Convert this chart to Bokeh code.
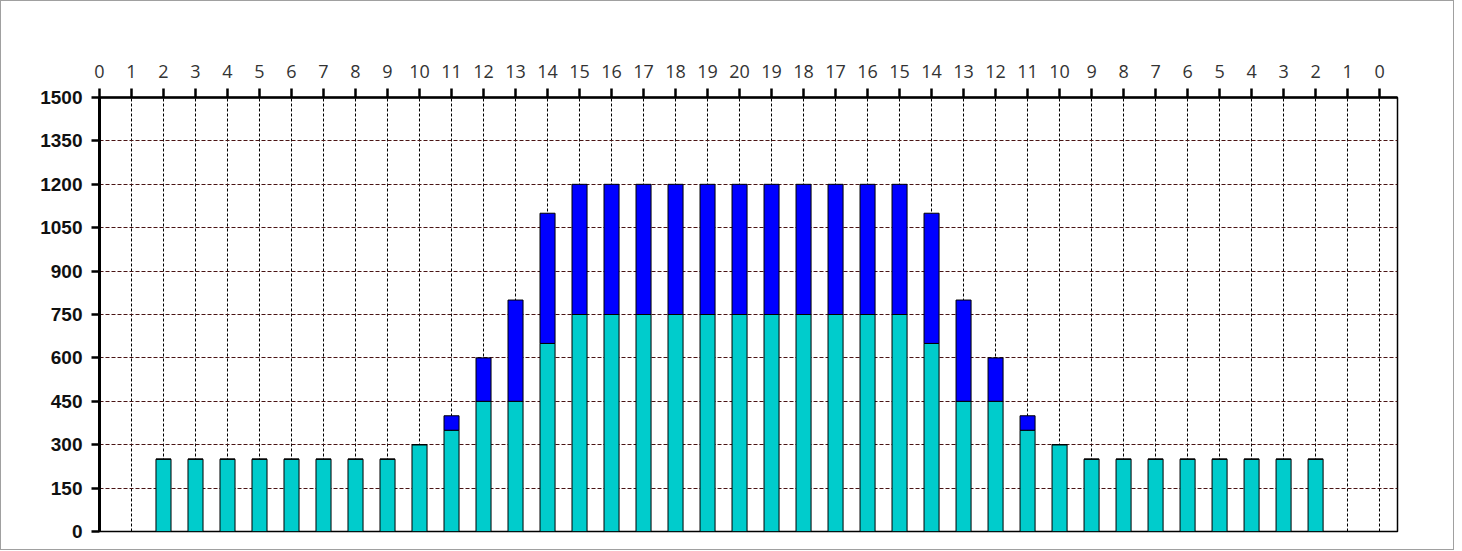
from bokeh.plotting import figure
from bokeh.models import FixedTicker, Range1d, ColumnDataSource
from bokeh.embed import file_html
from bokeh.resources import INLINE

# ---- data ----
POSITIONS = list(range(2, 39))
LOWER = [250, 250, 250, 250, 250, 250, 250, 250,
         300, 350, 450, 450, 650,
         750, 750, 750, 750, 750, 750, 750, 750, 750, 750, 750,
         650, 450, 450, 350, 300,
         250, 250, 250, 250, 250, 250, 250, 250]
UPPER = [0, 0, 0, 0, 0, 0, 0, 0,
         0, 50, 150, 350, 450,
         450, 450, 450, 450, 450, 450, 450, 450, 450, 450, 450,
         450, 350, 150, 50, 0,
         0, 0, 0, 0, 0, 0, 0, 0]
TOP_TICKS = list(range(0, 41))
TOP_LABELS = ["0", "1", "2", "3", "4", "5", "6", "7", "8", "9", "10",
              "11", "12", "13", "14", "15", "16", "17", "18", "19", "20",
              "19", "18", "17", "16", "15", "14", "13", "12", "11", "10",
              "9", "8", "7", "6", "5", "4", "3", "2", "1", "0"]
Y_TICKS = [0, 150, 300, 450, 600, 750, 900, 1050, 1200, 1350, 1500]

src = ColumnDataSource(dict(x=POSITIONS, lower=LOWER, upper=UPPER))

p = figure(frame_width=1298, frame_height=434,
           min_border_left=98, min_border_top=96, min_border_right=56, min_border_bottom=18,
           x_range=Range1d(0, 40.56), y_range=Range1d(0, 1500),
           x_axis_location="above", output_backend="svg", toolbar_location=None,
           background_fill_color="white", border_fill_color="white")

p.vbar_stack(["lower", "upper"], x="x", width=0.47, source=src,
             fill_color=["#00CCCC", "#0000FF"], line_color="black", line_width=1)

# top axis
xa = p.xaxis[0]
xa.ticker = FixedTicker(ticks=TOP_TICKS)
xa.major_label_overrides = {t: l for t, l in zip(TOP_TICKS, TOP_LABELS)}
xa.major_tick_out = 9
xa.major_tick_in = 0
xa.minor_tick_line_color = None
xa.axis_line_width = 2.5
xa.major_tick_line_width = 2.5
xa.axis_line_color = "black"
xa.major_tick_line_color = "black"
xa.major_label_text_font = "Open Sans"
xa.major_label_text_font_size = "18px"
xa.major_label_text_color = "#333333"
xa.major_label_standoff = 11

# left axis
ya = p.yaxis[0]
ya.ticker = FixedTicker(ticks=Y_TICKS)
ya.major_tick_out = 8
ya.major_tick_in = 0
ya.minor_tick_line_color = None
ya.axis_line_width = 3
ya.major_tick_line_width = 2.5
ya.axis_line_color = "black"
ya.major_tick_line_color = "black"
ya.major_label_text_font = "Liberation Sans"
ya.major_label_text_font_style = "bold"
ya.major_label_text_font_size = "19px"
ya.major_label_text_color = "#111111"
ya.major_label_standoff = 9

# grids
p.xgrid.grid_line_color = "black"
p.xgrid.grid_line_dash = "3 2"
p.xgrid.grid_line_width = 1
p.ygrid.grid_line_color = "#4a1515"
p.ygrid.grid_line_dash = "4 2"
p.ygrid.grid_line_width = 1

p.outline_line_color = "black"
p.outline_line_width = 1.5
p.styles = {"border": "1px solid #a0a0a0"}

open("out.html", "w").write(file_html(p, INLINE))
